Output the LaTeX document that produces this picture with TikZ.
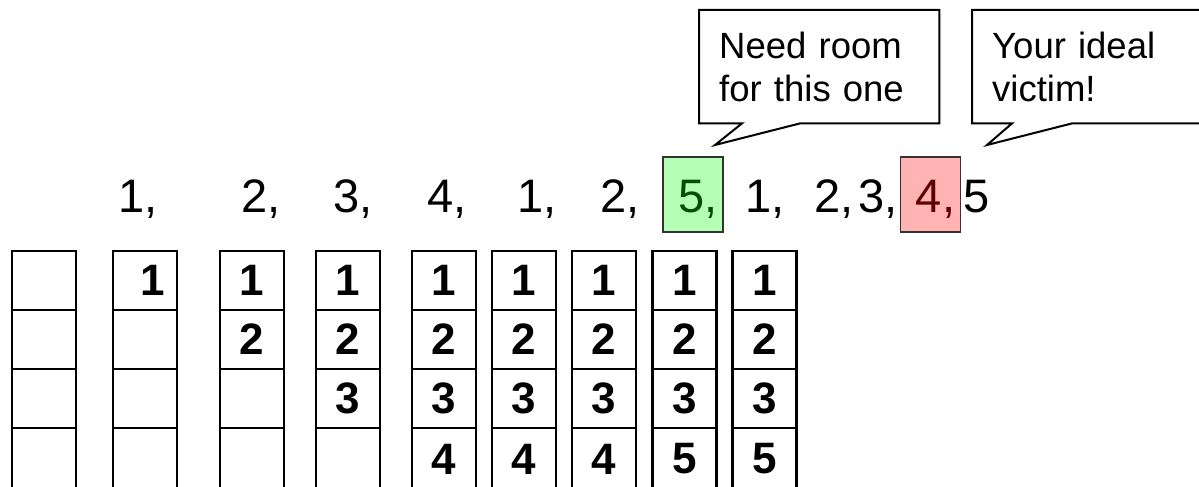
\documentclass[tikz,border=0pt]{standalone}
\usepackage{fontspec}
\setmainfont{Liberation Sans}
\usepackage{xcolor}
\usepackage{tikz}
\usetikzlibrary{positioning}

\definecolor{hitgreen}{RGB}{179,255,179}
\definecolor{hitgreentext}{RGB}{0,80,0}
\definecolor{victimred}{RGB}{255,179,179}
\definecolor{victimredtext}{RGB}{96,0,0}

\begin{document}
\begin{tikzpicture}[x=1pt,y=-1pt,
          seq/.style={anchor=base west,inner sep=0pt,font=\fontsize{47}{47}\selectfont},
          hit/.style={seq,anchor=base,draw=black!80,line width=1.2pt,minimum width=60pt,text height=55pt,text depth=20pt},
          cell/.style={draw,line width=2.5pt,minimum width=64pt,minimum height=59pt,inner sep=0pt,font=\fontsize{44}{44}\selectfont\bfseries},
          say/.style={anchor=north west,inner sep=20pt,text width=200pt,minimum height=113pt,align=left,font=\fontsize{36.5}{43}\selectfont},
          bubble/.style={draw,line width=2pt,line join=miter}]
        \useasboundingbox (0,0) rectangle (1199,487);
        % reference string
        \node[seq] (q1)  at (118,212) {1,};
        \node[seq] (q2)  at (241,212) {2,};
        \node[seq] (q3)  at (333,212) {3,};
        \node[seq] (q4)  at (427,212) {4,};
        \node[seq] (q5)  at (517,212) {1,};
        \node[seq] (q6)  at (600,212) {2,};
        \node[hit,fill=hitgreen,text=hitgreentext] (q7) at (693,212) {\kern10pt 5,};
        \node[seq] (q8)  at (745,212) {1,};
        \node[seq] (q9)  at (814,212) {2,};
        \node[seq] (q10) at (858,212) {3,};
        \node[hit,fill=victimred,text=victimredtext] (q11) at (930.5,212) {\kern10pt 4,};
        \node[seq] (q12) at (963,212) {5};
        % frames
        \foreach \x/\a/\b/\c/\d [count=\i] in {44/{}/{}/{}/{}, 145/{\hspace*{16pt}1}/{}/{}/{},
            252/1/2/{}/{}, 348/1/2/3/{}, 444/1/2/3/4, 524/1/2/3/4, 604/1/2/3/4,
            684.5/1/2/3/5, 764.5/1/2/3/5}
        {
          \node[cell] (s\i r1) at (\x,280.5) {\a};
          \node[cell] (s\i r2) at (\x,339.5) {\b};
          \node[cell] (s\i r3) at (\x,398.5) {\c};
          \node[cell,minimum height=62pt] (s\i r4) at (\x,459) {\d};
        }
        % callouts
        \node[say] (need) at (699,10) {Need room\\for this one};
        \coordinate (needtip) at (715,145);
        \draw[bubble] (need.north west) -- (need.north east) -- (need.south east)
          -- ([xshift=101pt]need.south west) -- (needtip) -- ([xshift=43pt]need.south west)
          -- (need.south west) -- cycle;
        \node[say] (victim) at (972,10) {Your ideal\\victim!};
        \coordinate (victimtip) at (987,145);
        \draw[bubble] (victim.north west) -- (victim.north east) -- (victim.south east)
          -- ([xshift=100pt]victim.south west) -- (victimtip) -- ([xshift=40pt]victim.south west)
          -- (victim.south west) -- cycle;
      \end{tikzpicture}
\end{document}
